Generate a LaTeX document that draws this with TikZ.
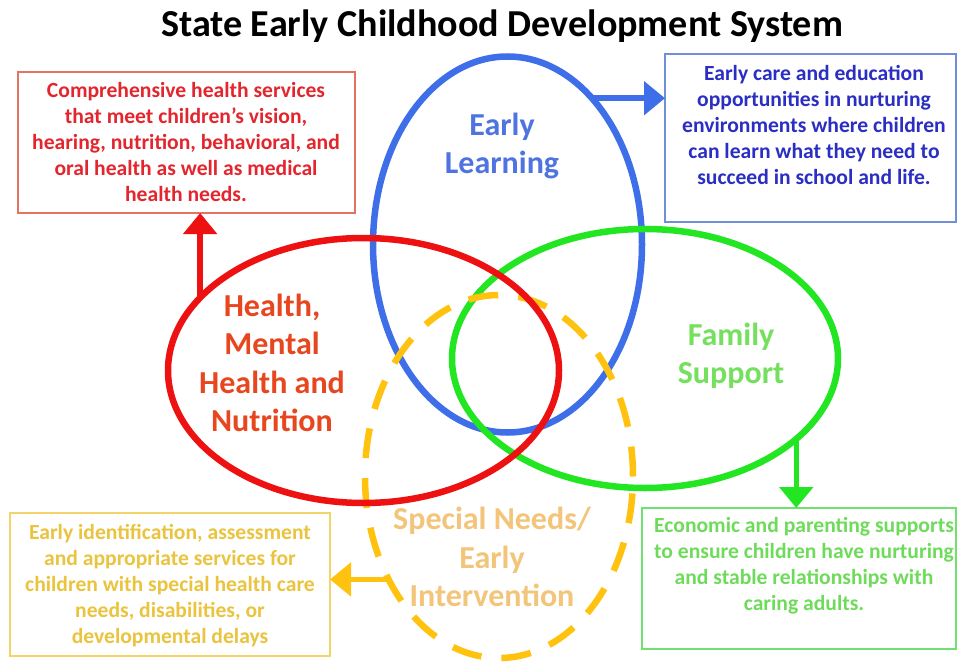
\documentclass[tikz,border=0pt]{standalone}
\usepackage{fontspec}
\setmainfont{Carlito}
\usetikzlibrary{shapes.geometric,arrows.meta}
\definecolor{cRed}{HTML}{EE1111}
\definecolor{cBlue}{HTML}{3F6FE8}
\definecolor{cGreen}{HTML}{22E622}
\definecolor{cYel}{HTML}{FFC20E}
\definecolor{redtxt}{HTML}{E3262E}
\definecolor{hlbl}{HTML}{E8461E}
\definecolor{bluetxt}{HTML}{2A2EC2}
\definecolor{ellbl}{HTML}{4F74E0}
\definecolor{greentxt}{HTML}{6EDC5A}
\definecolor{fslbl}{HTML}{74E05E}
\definecolor{yeltxt}{HTML}{EAC43E}
\definecolor{snlbl}{HTML}{F2C57A}
\definecolor{redbox}{HTML}{E57363}
\definecolor{bluebox}{HTML}{6F8FD8}
\definecolor{greenbox}{HTML}{70E070}
\definecolor{yelbox}{HTML}{F2D46A}
\begin{document}
\begin{tikzpicture}[x=1pt,y=-1pt,
 ell/.style={ellipse, draw, inner sep=0pt, outer sep=0pt, line width=6.5pt},
 box/.style={rectangle, draw, line width=1.5pt, inner sep=0pt, outer sep=0pt},
 boxtxt/.style={align=center, font=\fontsize{21.6}{26}\selectfont\bfseries, inner sep=0pt},
 lbl/.style={align=center, font=\fontsize{32}{38.5}\selectfont\bfseries, inner sep=0pt},
 arr/.style={line width=5.5pt, -{Triangle[width=33pt,length=21pt]}}]
\useasboundingbox[fill=white] (0,0) rectangle (958,666);

% title
\node[font=\fontsize{38.1}{40}\selectfont\bfseries, inner sep=0pt] (title) at (502,26.6) {State Early Childhood Development System};

% description boxes
\node[box, draw=redbox, minimum width=337pt, minimum height=141pt] (hbox) at (186.5,142.5) {};
\node[box, draw=bluebox, minimum width=291pt, minimum height=168pt] (bbox) at (810.5,138) {};
\node[box, draw=greenbox, minimum width=314pt, minimum height=141pt] (gbox) at (799,578.5) {};
\node[box, draw=yelbox, minimum width=320pt, minimum height=143pt] (ybox) at (170,584.5) {};

\node[boxtxt, text=redtxt] (htxt) at (186,142) {Comprehensive health services\\that meet children’s vision,\\hearing, nutrition, behavioral, and\\oral health as well as medical\\health needs.};
\node[boxtxt, text=bluetxt] (btxt) at (814,125) {Early care and education\\opportunities in nurturing\\environments where children\\can learn what they need to\\succeed in school and life.};
\node[boxtxt, text=greentxt] (gtxt) at (804,566) {Economic and parenting supports\\to ensure children have nurturing\\and stable relationships with\\caring adults.};
\node[boxtxt, text=yeltxt] (ytxt) at (170,585.5) {Early identification, assessment\\and appropriate services for\\children with special health care\\needs, disabilities, or\\developmental delays};

% ellipses
\node[ell, draw=cBlue, minimum width=269pt, minimum height=376pt] (blueE) at (507.5,244.5) {};
\node[ell, draw=cGreen, minimum width=386pt, minimum height=259pt] (greenE) at (645,358.5) {};
\node[ell, draw=cYel, dash pattern=on 30pt off 20pt, minimum width=268pt, minimum height=363pt] (yelE) at (499,476.5) {};
\node[ell, draw=cRed, minimum width=391pt, minimum height=265pt] (redE) at (363.5,370.5) {};

% arrows
\draw[arr, cRed] (redE.156) -- (redE.156 |- hbox.south);
\draw[arr, cBlue] (blueE.60) -- (blueE.60 -| bbox.west);
\draw[arr, cGreen] (greenE.332) -- (greenE.332 |- gbox.north);
\draw[arr, cYel] (yelE.223) -- (yelE.223 -| ybox.east);

% labels
\node[lbl, text=ellbl] (lEL) at (502,146) {Early\\Learning};
\node[lbl, text=hlbl] (lHM) at (272,363) {Health,\\Mental\\Health and\\Nutrition};
\node[lbl, text=fslbl] (lFS) at (731,356) {Family\\Support};
\node[lbl, text=snlbl] (lSN) at (492,557) {Special Needs/\\Early\\Intervention};
\end{tikzpicture}
\end{document}
